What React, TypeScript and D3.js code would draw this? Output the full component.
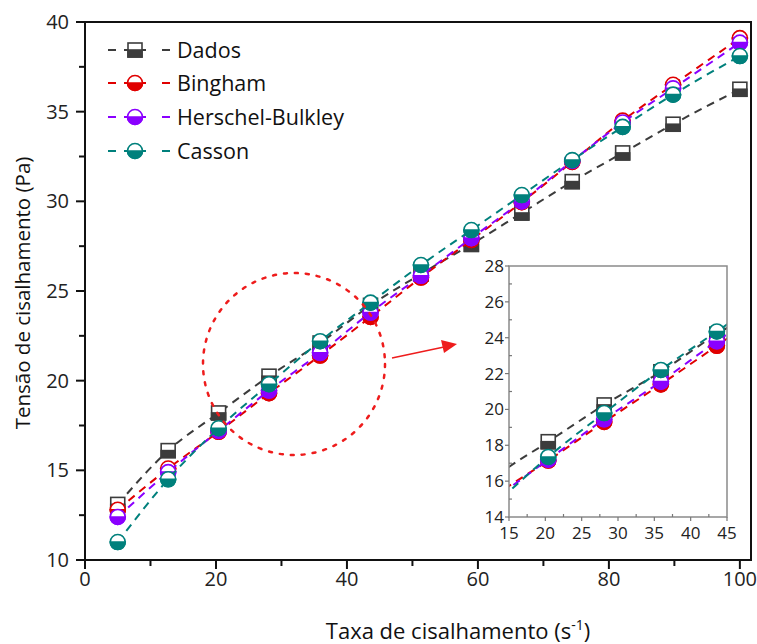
import React, { useEffect, useRef } from 'react'
import * as d3 from 'd3'

// shear rates (s^-1)
const rates = [5, 12.7, 20.4, 28.1, 35.9, 43.6, 51.3, 59.0, 66.7, 74.4, 82.1, 89.8, 100]
// shear stress (Pa) for each series
const dados = [13.1, 16.1, 18.2, 20.25, 22.1, 24.2, 25.95, 27.6, 29.35, 31.1, 32.7, 34.3, 36.25]
const bingham = [12.8, 15.1, 17.15, 19.3, 21.4, 23.55, 25.75, 27.85, 29.95, 32.2, 34.5, 36.5, 39.1]
const herschel = [12.4, 14.9, 17.2, 19.45, 21.55, 23.8, 25.85, 27.95, 30.0, 32.25, 34.4, 36.3, 38.85]
const casson = [11.0, 14.5, 17.35, 19.8, 22.2, 24.35, 26.45, 28.4, 30.35, 32.3, 34.15, 35.95, 38.1]

const seriesNames = ['Dados', 'Bingham', 'Herschel-Bulkley', 'Casson']
const seriesColors = ['#3c3c3c', '#e00000', '#8a00ff', '#00807c']
const seriesShapes = ['square', 'circle', 'circle', 'circle']
const seriesValues = [dados, bingham, herschel, casson]

const mainXTicks = [0, 20, 40, 60, 80, 100]
const mainYTicks = [10, 15, 20, 25, 30, 35, 40]
const insetXTicks = [15, 20, 25, 30, 35, 40, 45]
const insetYTicks = [14, 16, 18, 20, 22, 24, 26, 28]

const FONT = '"Open Sans", "DejaVu Sans", sans-serif'

// marker: white top half, coloured bottom half
function drawMarker(g, shape, color, cx, cy) {
  const m = g.append('g').attr('transform', 'translate(' + cx + ',' + cy + ')')
  if (shape === 'square') {
    const s = 7
    m.append('rect').attr('x', -s).attr('y', -s).attr('width', 2 * s).attr('height', 2 * s)
      .attr('fill', '#fff').attr('stroke', color).attr('stroke-width', 1.6)
    m.append('rect').attr('x', -s).attr('y', 0).attr('width', 2 * s).attr('height', s)
      .attr('fill', color).attr('stroke', color).attr('stroke-width', 1.6)
  } else {
    const r = 7.5
    m.append('circle').attr('r', r).attr('fill', '#fff').attr('stroke', color).attr('stroke-width', 1.6)
    m.append('path').attr('d', 'M' + (-r) + ',0 A' + r + ',' + r + ' 0 0 0 ' + r + ',0 Z')
      .attr('fill', color).attr('stroke', color).attr('stroke-width', 1.6)
  }
}

function drawSeries(g, x, y) {
  const line = d3.line().curve(d3.curveMonotoneX)
  seriesValues.forEach((vals, i) => {
    const pts = rates.map((r, j) => [x(r), y(vals[j])])
    g.append('path').attr('d', line(pts)).attr('fill', 'none')
      .attr('stroke', seriesColors[i]).attr('stroke-width', 2).attr('stroke-dasharray', '8,6')
    pts.forEach(p => drawMarker(g, seriesShapes[i], seriesColors[i], p[0], p[1]))
  })
}

export default function App() {
  const ref = useRef(null)
  useEffect(() => {
    const svg = d3.select(ref.current)
    svg.selectAll('*').remove()
    const W = 757, H = 644

    svg.append('rect').attr('width', W).attr('height', H).attr('fill', '#fff')

    // ----- main plot -----
    const x = d3.scaleLinear().domain([0, 101.7]).range([85, 751])
    const y = d3.scaleLinear().domain([10, 40]).range([560, 22])

    svg.append('defs').append('clipPath').attr('id', 'mainClip')
      .append('rect').attr('x', 85).attr('y', 22).attr('width', 666).attr('height', 538)

    const plot = svg.append('g').attr('clip-path', 'url(#mainClip)')
    drawSeries(plot, x, y)

    // frame
    svg.append('rect').attr('x', 85).attr('y', 22).attr('width', 666).attr('height', 538)
      .attr('fill', 'none').attr('stroke', '#111').attr('stroke-width', 2)

    // x ticks
    const xAx = svg.append('g')
    d3.range(0, 101, 10).forEach(v => {
      const major = v % 20 === 0
      xAx.append('line').attr('x1', x(v)).attr('x2', x(v)).attr('y1', 560).attr('y2', 560 + (major ? 9 : 6))
        .attr('stroke', '#111').attr('stroke-width', 2)
    })
    mainXTicks.forEach(v => {
      xAx.append('text').attr('x', x(v)).attr('y', 586).text(v)
        .attr('text-anchor', 'middle').attr('font-size', 20).attr('font-family', FONT).attr('fill', '#222')
    })
    // y ticks
    const yAx = svg.append('g')
    d3.range(10, 40.1, 2.5).forEach(v => {
      const major = v % 5 === 0
      yAx.append('line').attr('x1', 85).attr('x2', 85 - (major ? 9 : 6)).attr('y1', y(v)).attr('y2', y(v))
        .attr('stroke', '#111').attr('stroke-width', 2)
    })
    mainYTicks.forEach(v => {
      yAx.append('text').attr('x', 69).attr('y', y(v)).attr('dy', '0.35em').text(v)
        .attr('text-anchor', 'end').attr('font-size', 20).attr('font-family', FONT).attr('fill', '#222')
    })

    // axis titles
    const xt = svg.append('text').attr('x', 458).attr('y', 639).attr('text-anchor', 'middle')
      .attr('font-size', 22).attr('font-family', FONT).attr('fill', '#111')
    xt.append('tspan').text('Taxa de cisalhamento (s')
    xt.append('tspan').text('-1').attr('font-size', 14).attr('dy', -9)
    xt.append('tspan').text(')').attr('dy', 9)

    svg.append('text').attr('transform', 'translate(30,293) rotate(-90)').attr('text-anchor', 'middle')
      .attr('font-size', 20.5).attr('font-family', FONT).attr('fill', '#111')
      .text('Tensão de cisalhamento (Pa)')

    // ----- legend -----
    const legY = [50, 83, 117, 151]
    seriesNames.forEach((name, i) => {
      const lg = svg.append('g')
      lg.append('line').attr('x1', 108).attr('x2', 116).attr('y1', legY[i]).attr('y2', legY[i])
        .attr('stroke', seriesColors[i]).attr('stroke-width', 2)
      lg.append('line').attr('x1', 162).attr('x2', 170).attr('y1', legY[i]).attr('y2', legY[i])
        .attr('stroke', seriesColors[i]).attr('stroke-width', 2)
      lg.append('line').attr('x1', 124).attr('x2', 146).attr('y1', legY[i]).attr('y2', legY[i])
        .attr('stroke', seriesColors[i]).attr('stroke-width', 2)
      drawMarker(lg, seriesShapes[i], seriesColors[i], 135, legY[i])
      lg.append('text').attr('x', 177).attr('y', legY[i]).attr('dy', '0.35em').text(name)
        .attr('font-size', 21.5).attr('font-family', FONT).attr('fill', '#111')
    })

    // ----- zoom highlight -----
    svg.append('ellipse').attr('cx', 294).attr('cy', 364).attr('rx', 91).attr('ry', 91)
      .attr('fill', 'none').attr('stroke', '#ee1c1c').attr('stroke-width', 2.5)
      .attr('stroke-dasharray', '3,8').attr('stroke-linecap', 'round')
    svg.append('line').attr('x1', 392).attr('y1', 358).attr('x2', 444).attr('y2', 347)
      .attr('stroke', '#ee1c1c').attr('stroke-width', 1.5)
    svg.append('path').attr('d', 'M457,344 L441,340 L444,353 Z').attr('fill', '#ee1c1c')

    // ----- inset -----
    const ix = d3.scaleLinear().domain([15, 45]).range([509, 727])
    const iy = d3.scaleLinear().domain([14, 28]).range([517, 266])
    svg.append('rect').attr('x', 509).attr('y', 266).attr('width', 218).attr('height', 251).attr('fill', '#fff')
    svg.select('defs').append('clipPath').attr('id', 'insetClip')
      .append('rect').attr('x', 509).attr('y', 266).attr('width', 218).attr('height', 251)
    const inset = svg.append('g').attr('clip-path', 'url(#insetClip)')
    drawSeries(inset, ix, iy)
    svg.append('rect').attr('x', 509).attr('y', 266).attr('width', 218).attr('height', 251)
      .attr('fill', 'none').attr('stroke', '#8a8a8a').attr('stroke-width', 1.5)

    d3.range(15, 45.1, 2.5).forEach(v => {
      const major = v % 5 === 0
      svg.append('line').attr('x1', ix(v)).attr('x2', ix(v)).attr('y1', 517).attr('y2', 517 - (major ? 0 : 3))
        .attr('stroke', '#777').attr('stroke-width', 1.2)
      if (major) svg.append('line').attr('x1', ix(v)).attr('x2', ix(v)).attr('y1', 517).attr('y2', 521)
        .attr('stroke', '#777').attr('stroke-width', 1.2)
    })
    insetXTicks.forEach(v => {
      svg.append('text').attr('x', ix(v)).attr('y', 539).text(v).attr('text-anchor', 'middle')
        .attr('font-size', 17).attr('font-family', FONT).attr('fill', '#222')
    })
    d3.range(14, 28.1, 1).forEach(v => {
      const major = v % 2 === 0
      svg.append('line').attr('x1', 509).attr('x2', 509 - (major ? 4 : 0)).attr('y1', iy(v)).attr('y2', iy(v))
        .attr('stroke', '#777').attr('stroke-width', 1.2)
      if (!major) svg.append('line').attr('x1', 509).attr('x2', 512).attr('y1', iy(v)).attr('y2', iy(v))
        .attr('stroke', '#777').attr('stroke-width', 1.2)
    })
    insetYTicks.forEach(v => {
      svg.append('text').attr('x', 504).attr('y', iy(v)).attr('dy', '0.35em').text(v).attr('text-anchor', 'end')
        .attr('font-size', 17).attr('font-family', FONT).attr('fill', '#222')
    })
  }, [])

  return (
    <div style={{ position: 'absolute', left: 0, top: 0 }}>
      <svg ref={ref} width={757} height={644} style={{ display: 'block' }}></svg>
    </div>
  )
}
